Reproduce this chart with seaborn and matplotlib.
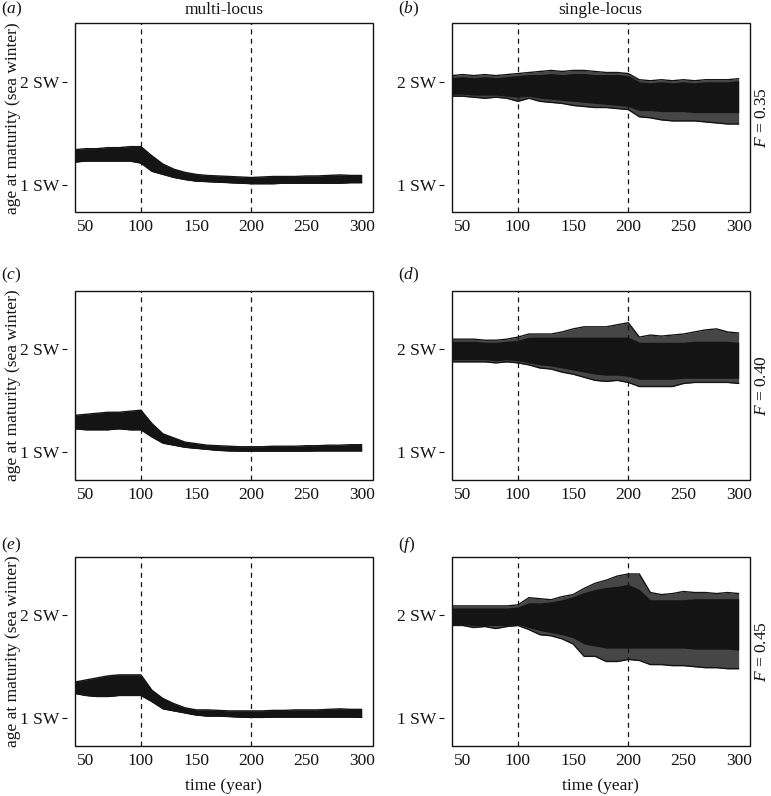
import numpy as np
import pandas as pd
import matplotlib
matplotlib.use("Agg")
import matplotlib.pyplot as plt
from matplotlib.patches import Rectangle
import seaborn as sns

# --- data (edges of the bundle of simulation runs) ---
years = list(range(40, 301, 10))

# multi-locus panels: upper / lower edge of the bundle
a_upper = [1.34, 1.35, 1.35, 1.36, 1.36, 1.37, 1.37, 1.28, 1.20, 1.15, 1.12, 1.10, 1.09, 1.085,
           1.08, 1.075, 1.07, 1.075, 1.08, 1.08, 1.08, 1.085, 1.085, 1.09, 1.095, 1.09, 1.09]
a_lower = [1.22, 1.23, 1.23, 1.23, 1.23, 1.23, 1.21, 1.13, 1.10, 1.07, 1.05, 1.035, 1.03, 1.025,
           1.02, 1.015, 1.01, 1.01, 1.01, 1.015, 1.015, 1.015, 1.015, 1.015, 1.015, 1.02, 1.02]
c_upper = [1.36, 1.37, 1.38, 1.39, 1.39, 1.40, 1.41, 1.28, 1.18, 1.14, 1.10, 1.085, 1.07, 1.065,
           1.06, 1.055, 1.055, 1.055, 1.06, 1.06, 1.06, 1.065, 1.065, 1.07, 1.07, 1.075, 1.075]
c_lower = [1.23, 1.22, 1.22, 1.22, 1.23, 1.22, 1.22, 1.15, 1.09, 1.07, 1.05, 1.04, 1.03, 1.02,
           1.015, 1.013, 1.013, 1.013, 1.013, 1.013, 1.013, 1.013, 1.015, 1.015, 1.015, 1.015, 1.015]
e_upper = [1.35, 1.37, 1.39, 1.41, 1.42, 1.42, 1.42, 1.27, 1.19, 1.14, 1.10, 1.08, 1.08, 1.075,
           1.07, 1.07, 1.07, 1.07, 1.075, 1.075, 1.08, 1.08, 1.08, 1.085, 1.09, 1.085, 1.085]
e_lower = [1.24, 1.22, 1.21, 1.21, 1.22, 1.22, 1.22, 1.16, 1.09, 1.07, 1.05, 1.03, 1.02, 1.02,
           1.015, 1.01, 1.007, 1.007, 1.01, 1.01, 1.01, 1.01, 1.01, 1.01, 1.01, 1.01, 1.007]

# single-locus panels: outer edge (outlying runs) and dense core
b_upper = [2.06, 2.07, 2.06, 2.07, 2.06, 2.07, 2.08, 2.09, 2.10, 2.11, 2.10, 2.11, 2.11, 2.10,
           2.09, 2.09, 2.08, 2.02, 2.01, 2.02, 2.01, 2.02, 2.01, 2.02, 2.02, 2.02, 2.03]
b_lower = [1.86, 1.86, 1.85, 1.84, 1.85, 1.84, 1.81, 1.84, 1.81, 1.80, 1.79, 1.77, 1.76, 1.75,
           1.75, 1.74, 1.73, 1.66, 1.65, 1.63, 1.62, 1.62, 1.62, 1.61, 1.60, 1.59, 1.59]
b_core_up = [2.04, 2.05, 2.04, 2.05, 2.04, 2.05, 2.06, 2.07, 2.07, 2.08, 2.07, 2.08, 2.08, 2.07,
             2.07, 2.07, 2.06, 2.00, 1.99, 2.00, 1.99, 2.00, 1.99, 2.00, 2.00, 2.00, 2.01]
b_core_lo = [1.88, 1.88, 1.87, 1.87, 1.87, 1.86, 1.85, 1.86, 1.84, 1.83, 1.82, 1.81, 1.80, 1.79,
             1.78, 1.77, 1.76, 1.72, 1.72, 1.71, 1.71, 1.71, 1.70, 1.70, 1.70, 1.70, 1.70]

d_upper = [2.10, 2.10, 2.10, 2.09, 2.09, 2.10, 2.12, 2.15, 2.15, 2.15, 2.17, 2.20, 2.22, 2.22,
           2.22, 2.24, 2.26, 2.12, 2.14, 2.13, 2.14, 2.15, 2.17, 2.19, 2.20, 2.17, 2.16]
d_lower = [1.88, 1.88, 1.88, 1.88, 1.87, 1.88, 1.87, 1.85, 1.82, 1.81, 1.78, 1.76, 1.73, 1.70,
           1.69, 1.70, 1.68, 1.64, 1.64, 1.64, 1.64, 1.67, 1.68, 1.68, 1.68, 1.68, 1.67]
d_core_up = [2.08, 2.08, 2.08, 2.07, 2.07, 2.08, 2.09, 2.12, 2.12, 2.12, 2.12, 2.12, 2.12, 2.12,
             2.12, 2.12, 2.12, 2.07, 2.07, 2.07, 2.07, 2.07, 2.08, 2.08, 2.08, 2.08, 2.07]
d_core_lo = [1.90, 1.90, 1.90, 1.90, 1.89, 1.90, 1.89, 1.87, 1.85, 1.84, 1.82, 1.80, 1.78, 1.76,
             1.75, 1.75, 1.74, 1.71, 1.71, 1.71, 1.71, 1.72, 1.72, 1.72, 1.72, 1.72, 1.72]

f_upper = [2.09, 2.09, 2.09, 2.09, 2.09, 2.09, 2.10, 2.17, 2.16, 2.15, 2.18, 2.20, 2.26, 2.31,
           2.34, 2.38, 2.40, 2.40, 2.22, 2.20, 2.21, 2.23, 2.22, 2.22, 2.21, 2.22, 2.21]
f_lower = [1.90, 1.90, 1.88, 1.89, 1.87, 1.89, 1.90, 1.86, 1.81, 1.80, 1.77, 1.72, 1.60, 1.60,
           1.55, 1.55, 1.57, 1.56, 1.52, 1.52, 1.51, 1.51, 1.50, 1.49, 1.49, 1.48, 1.48]
f_core_up = [2.07, 2.07, 2.07, 2.07, 2.07, 2.07, 2.08, 2.12, 2.12, 2.13, 2.15, 2.18, 2.22, 2.25,
             2.27, 2.28, 2.30, 2.25, 2.15, 2.15, 2.15, 2.15, 2.16, 2.16, 2.16, 2.16, 2.16]
f_core_lo = [1.91, 1.91, 1.90, 1.90, 1.90, 1.90, 1.91, 1.88, 1.85, 1.83, 1.81, 1.78, 1.72, 1.70,
             1.68, 1.68, 1.68, 1.68, 1.68, 1.68, 1.68, 1.68, 1.67, 1.67, 1.67, 1.67, 1.66]

panel_letters = ["a", "b", "c", "d", "e", "f"]
col_titles = ["multi-locus", "single-locus"]
f_values = ["0.35", "0.40", "0.45"]
x_ticks = [50, 100, 150, 200, 250, 300]
y_ticks = [1, 2]
y_ticklabels = ["1 SW", "2 SW"]
breaks = [100, 200]

panels = [
    (a_upper, a_lower, a_upper, a_lower),
    (b_upper, b_lower, b_core_up, b_core_lo),
    (c_upper, c_lower, c_upper, c_lower),
    (d_upper, d_lower, d_core_up, d_core_lo),
    (e_upper, e_lower, e_upper, e_lower),
    (f_upper, f_lower, f_core_up, f_core_lo),
]

# --- style ---
sns.set_theme(style="white")
plt.rcParams["font.family"] = ["Liberation Serif", "DejaVu Serif"]
plt.rcParams["mathtext.fontset"] = "custom"
plt.rcParams["mathtext.rm"] = "Liberation Serif"
plt.rcParams["mathtext.it"] = "Liberation Serif:italic"
plt.rcParams["font.size"] = 12

W, H = 771, 796
fig = plt.figure(figsize=(W / 100, H / 100), dpi=100)
ink = "#141414"
# the outlying runs are sparser: a dark grey stands in for lines with gaps between them
sparse = "#464646"

def fx(px):
    return px / W

def fy(py):
    return 1 - py / H

col_left = [74.7, 451.7]
col_w = 298
row_top = [23.3, 291.0, 556.7]
row_h = 189

for i, (up, lo, cup, clo) in enumerate(panels):
    r, c = divmod(i, 2)
    ax = fig.add_axes([fx(col_left[c]), fy(row_top[r] + row_h), col_w / W, row_h / H])
    df = pd.DataFrame({"year": years, "upper": up, "lower": lo})

    ax.fill_between(years, lo, up, color=sparse, lw=0, zorder=2)
    ax.fill_between(years, clo, cup, color=ink, lw=0, zorder=2)
    sns.lineplot(data=df, x="year", y="upper", ax=ax, color=ink, lw=1.0, zorder=3)
    sns.lineplot(data=df, x="year", y="lower", ax=ax, color=ink, lw=1.0, zorder=3)
    for b in breaks:
        ax.axvline(b, color=ink, lw=0.9, ls=(0, (4, 3.5)), zorder=4)

    ax.set_xlim(40, 310)
    ax.set_ylim(0.732, 2.568)
    ax.set_xticks(x_ticks)
    ax.set_xticklabels([str(t) for t in x_ticks])
    ax.set_yticks(y_ticks)
    ax.set_yticklabels(y_ticklabels)
    ax.set_xlabel("")
    ax.set_ylabel("")

    for s in ax.spines.values():
        s.set_visible(False)
    ax.spines["left"].set_position(("outward", 5.8))
    ax.add_patch(Rectangle((0, 0), 1, 1, transform=ax.transAxes, fill=False,
                           lw=1.0, ec=ink, clip_on=False, zorder=5))
    ax.tick_params(axis="y", direction="out", length=3.6, width=0.8, pad=1.5,
                   left=True, colors=ink, labelsize=12.5)
    ax.tick_params(axis="x", length=0, pad=5, colors=ink, labelsize=12.5)

    # panel letter
    lx = 1 if c == 0 else 398
    ly = [9, 275, 545][r]
    fig.text(fx(lx), fy(ly), "($" + panel_letters[i] + "$)", ha="left", va="center",
             fontsize=12.5, color=ink)

    yc = row_top[r] + row_h / 2
    if c == 0:
        fig.text(fx(12.7), fy(yc), "age at maturity (sea winter)", rotation=90,
                 ha="center", va="center", fontsize=12.5, color=ink)
    else:
        fig.text(fx(762.5), fy(yc), "$F$ = " + f_values[r], rotation=90,
                 ha="center", va="center", fontsize=12.5, color=ink)
    if r == 0:
        fig.text(fx(col_left[c] + col_w / 2), fy(9.5), col_titles[c],
                 ha="center", va="center", fontsize=12.5, color=ink)
    if r == 2:
        fig.text(fx(col_left[c] + col_w / 2), fy(786), "time (year)",
                 ha="center", va="center", fontsize=12.5, color=ink)

fig.savefig("out.png", dpi=100)
